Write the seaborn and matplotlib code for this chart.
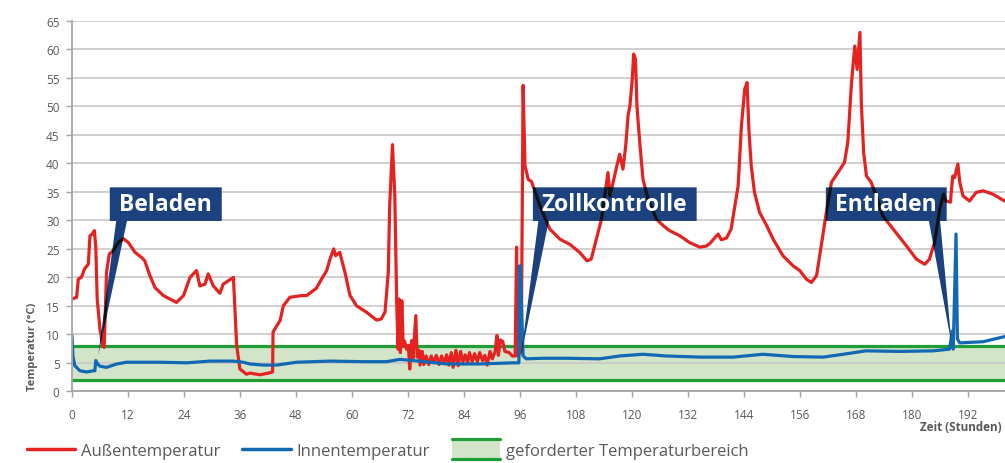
import numpy as np
import pandas as pd
import matplotlib
matplotlib.use("Agg")
import matplotlib.pyplot as plt
import seaborn as sns
from matplotlib.lines import Line2D
from matplotlib.patches import Rectangle, PathPatch
from matplotlib.path import Path
from matplotlib.legend_handler import HandlerBase

# ---------------- data ----------------
hours_out = [0.0, 1.0, 1.35, 2.0, 2.7, 3.5, 3.85, 4.35, 4.8, 5.1, 5.4, 6.0, 6.6, 6.9, 7.4, 8.0, 8.85,
             9.9, 11.0, 12.1, 13.5, 14.9, 15.6, 16.7, 17.8, 19.6, 22.4, 23.9, 25.3, 26.7, 27.4, 28.5,
             29.2, 30.3, 31.7, 32.4, 34.6, 35.3, 36.0, 37.4, 38.1, 40.3, 42.1, 43.0, 43.1, 43.9, 44.6,
             45.3, 46.7, 49.2, 50.3, 52.4, 53.5, 54.6, 55.3, 56.1, 56.5, 57.4, 58.5, 59.6, 61.0, 63.1,
             65.3, 66.3, 67.1, 67.8, 68.1, 68.7, 69.2, 69.6, 69.9, 70.1, 70.4, 70.7, 71.0, 71.3, 71.7,
             72.1, 72.4, 72.8, 73.1, 73.7, 74.0, 74.4, 74.6, 75.1, 75.4, 75.9, 76.5, 77.0, 77.5, 78.1,
             78.7, 79.2, 79.8, 80.3, 80.8, 81.3, 81.7, 82.3, 82.8, 83.3, 83.8, 84.3, 84.8, 85.2, 85.8,
             86.3, 86.9, 87.4, 88.0, 88.5, 89.0, 89.6, 90.1, 90.7, 91.1, 91.4, 91.8, 92.3, 92.8, 93.7,
             94.4, 95.0, 95.3, 95.5, 96.3, 96.7, 97.1, 97.8, 98.5, 100.3, 102.4, 104.6, 106.7, 108.8,
             110.4, 111.3, 112.4, 113.5, 114.2, 114.9, 115.3, 116.0, 116.8, 117.4, 118.1, 118.7, 119.2,
             119.6, 120.1, 120.4, 120.8, 121.1, 121.7, 122.4, 123.5, 125.3, 126.7, 128.1, 130.3, 132.4,
             134.6, 136.0, 136.8, 138.5, 139.2, 140.3, 141.3, 142.1, 142.8, 143.5, 144.2, 144.7, 145.1,
             145.6, 146.3, 147.4, 148.9, 150.3, 152.4, 154.6, 156.0, 157.4, 158.5, 159.6, 160.6, 161.7,
             162.8, 164.2, 165.6, 166.3, 167.1, 167.8, 168.3, 168.9, 169.2, 169.7, 170.3, 171.3, 172.4,
             173.8, 176.0, 178.9, 181.0, 182.8, 183.8, 184.9, 186.0, 186.8, 187.4, 188.3, 188.8, 189.2,
             189.9, 190.3, 191.0, 192.4, 193.8, 195.3, 197.4, 199.9]
temp_out = [16.2, 16.5, 19.7, 20.0, 21.5, 22.3, 27.3, 27.6, 28.2, 25.3, 16.2, 10.9, 8.0, 7.7, 20.9, 24.1, 24.7,
            26.1, 26.8, 26.1, 24.4, 23.5, 22.9, 20.3, 18.2, 16.8, 15.6, 16.8, 20.0, 21.2, 18.5, 18.8,
            20.6, 18.5, 17.2, 18.8, 20.0, 8.0, 3.9, 3.0, 3.2, 2.9, 3.2, 3.4, 10.4, 11.5, 12.4,
            15.0, 16.5, 16.8, 16.8, 18.1, 19.7, 21.2, 23.2, 25.0, 23.8, 24.4, 20.9, 16.8, 15.0, 13.9,
            12.5, 12.7, 13.9, 20.9, 32.6, 43.3, 34.3, 15.6, 7.4, 16.2, 6.8, 15.9, 8.0, 8.8, 7.4,
            8.1, 3.9, 8.9, 5.8, 13.3, 6.0, 7.2, 4.6, 7.0, 4.7, 6.2, 4.7, 6.2, 5.0, 6.3,
            4.7, 6.2, 5.0, 6.4, 4.6, 6.8, 4.2, 7.2, 4.5, 7.0, 5.2, 6.4, 5.0, 6.8, 5.2,
            6.6, 5.2, 6.8, 5.4, 6.3, 4.6, 7.0, 5.7, 7.0, 9.8, 6.3, 9.0, 8.8, 7.0, 6.8,
            6.2, 6.2, 25.3, 6.2, 7.0, 53.7, 39.6, 37.2, 36.8, 32.6, 28.5, 26.7, 25.8, 24.4,
            22.9, 23.2, 26.7, 30.2, 34.3, 38.4, 34.3, 36.7, 39.6, 41.6, 39.0, 43.1, 48.4,
            50.1, 54.8, 59.2, 58.3, 50.1, 43.7, 37.2, 33.7, 30.2, 29.1, 28.2, 27.3, 26.1,
            25.3, 25.5, 26.0, 27.6, 26.6, 26.9, 28.5, 32.6, 36.1, 46.6, 53.0, 54.2, 46.0,
            39.6, 34.9, 31.4, 29.1, 26.7, 23.8, 22.0, 21.2, 19.7, 19.1, 20.3, 25.5, 31.4,
            36.7, 38.4, 40.2, 43.7, 54.2, 60.6, 56.5, 63.0, 50.7, 41.9, 37.8, 36.7, 34.3,
            30.8, 28.5, 25.5, 23.2, 22.3, 23.2, 26.1, 32.0, 34.6, 33.4, 33.2, 37.8, 37.5,
            39.9, 36.7, 34.3, 33.4, 34.9, 35.2, 34.6, 33.4]

hours_in = [0.0, 0.2, 0.6, 1.7, 3.1, 4.6, 4.9, 5.1, 5.5, 6.0, 7.4, 9.6, 11.7, 18.9, 24.6, 29.6, 34.6,
            36.7, 38.1, 41.0, 43.9, 48.1, 55.3, 62.4, 67.4, 70.3, 73.1, 80.3, 87.4, 94.6, 95.8, 95.9,
            96.1, 96.7, 97.4, 101.0, 106.0, 113.1, 117.4, 122.4, 127.4, 134.6, 141.7, 148.1, 154.6,
            161.0, 165.3, 170.2, 177.4, 184.6, 188.1, 188.7, 188.9, 189.5, 189.8, 190.3, 195.3, 199.9]
temp_in = [9.8, 6.2, 4.5, 3.6, 3.4, 3.6, 3.6, 5.4, 4.8, 4.4, 4.2, 4.8, 5.1, 5.1, 5.0, 5.3, 5.3,
           5.1, 4.8, 4.6, 4.6, 5.1, 5.3, 5.2, 5.2, 5.6, 5.4, 4.8, 4.8, 5.0, 5.0, 22.0,
           22.0, 6.2, 5.7, 5.8, 5.8, 5.7, 6.2, 6.5, 6.2, 6.0, 6.0, 6.5, 6.1,
           6.0, 6.5, 7.1, 7.0, 7.1, 7.4, 10.6, 7.4, 27.6, 9.2, 8.5, 8.7, 9.6]

band_low, band_high = 2, 8
x_ticks = list(range(0, 193, 12))
y_ticks = list(range(0, 66, 5))

series_labels = ["Außentemperatur", "Innentemperatur", "geforderter Temperaturbereich"]
callout_labels = ["Beladen", "Zollkontrolle", "Entladen"]

# ---------------- styles ----------------
RED = "#e42320"
BLUE = "#1168b3"
GREEN = "#1f9e37"
BAND_FILL = "#d2e5c8"
BOX = "#1c417f"
GRAY_TXT = "#595959"
GRAY_LINE = "#a6a6a6"

# callout geometry: (box x0, x1, y0, y1), (wedge base x0, x1), wedge tip (x, y)
callout_geom = [
    ((8.1, 32.1, 29.9, 35.8), (9.6, 12.0), (5.6, 6.2)),
    ((98.8, 133.9, 29.9, 35.8), (100.1, 102.4), (96.2, 6.0)),
    ((161.6, 187.5, 29.9, 35.8), (183.5, 186.0), (188.6, 8.0)),
]

sns.set_theme(style="white")
plt.rcParams["font.family"] = ["Open Sans", "DejaVu Sans"]

fig = plt.figure(figsize=(10.05, 4.64), dpi=100)
ax = fig.add_axes([72 / 1005, (464 - 392.3) / 464, 1 - 72 / 1005, (392.3 - 22) / 464])

# band
ax.fill_between([0, 200], band_low, band_high, color=BAND_FILL, lw=0, zorder=0.3)
ax.axhline(band_low, color=GREEN, lw=2.3, zorder=1.5)
ax.axhline(band_high, color=GREEN, lw=2.3, zorder=1.5)

df_out = pd.DataFrame({"h": hours_out, "t": temp_out})
df_in = pd.DataFrame({"h": hours_in, "t": temp_in})
sns.lineplot(data=df_out, x="h", y="t", color=RED, lw=2.3, ax=ax, zorder=2,
             estimator=None, sort=False)
sns.lineplot(data=df_in, x="h", y="t", color=BLUE, lw=2.3, ax=ax, zorder=2.1,
             estimator=None, sort=False)

# callouts
for label, (box, base, tip) in zip(callout_labels, callout_geom):
    bx0, bx1, by0, by1 = box
    verts = [(bx0, by0), (bx1, by0), (bx1, by1), (bx0, by1), (bx0, by0),
             (base[0], by0 + 0.8), (tip[0], tip[1]), (base[1], by0 + 0.8), (base[0], by0 + 0.8)]
    codes = [Path.MOVETO, Path.LINETO, Path.LINETO, Path.LINETO, Path.CLOSEPOLY,
             Path.MOVETO, Path.LINETO, Path.LINETO, Path.CLOSEPOLY]
    patch = PathPatch(Path(verts, codes), facecolor=BOX, edgecolor="none", zorder=3,
                      transform=ax.transData)
    ax.add_patch(patch)
    dark, = ax.plot(hours_out, temp_out, color="#111111", lw=2.3, zorder=3.5)
    dark.set_clip_path(patch)
    ax.text((bx0 + bx1) / 2, (by0 + by1) / 2, label, color="white", fontweight="bold",
            fontsize=16.5, ha="center", va="center", zorder=5)

# axes styling
ax.set_xlim(0, 200)
ax.set_ylim(0, 65)
ax.set_xticks(x_ticks)
ax.set_yticks(y_ticks)
ax.set_axisbelow(True)
ax.yaxis.grid(True, color="#c8c8c8", lw=1.2)
ax.xaxis.grid(False)
for s in ["top", "right"]:
    ax.spines[s].set_visible(False)
for s in ["left", "bottom"]:
    ax.spines[s].set_color(GRAY_LINE)
    ax.spines[s].set_linewidth(1.3)
ax.tick_params(axis="both", bottom=True, left=True, direction="out", length=4, width=1,
               color=GRAY_LINE, labelcolor=GRAY_TXT, labelsize=8.5)
ax.tick_params(axis="x", pad=8)
ax.tick_params(axis="y", pad=5)
ax.set_xlabel("")
ax.set_ylabel("Temperatur (°C)", fontsize=8, fontweight="bold", color=GRAY_TXT)
ax.yaxis.set_label_coords(-0.036, 0.122)

fig.text(1002 / 1005, (464 - 428) / 464, "Zeit (Stunden)", fontsize=8.4, fontweight="bold",
         color=GRAY_TXT, ha="right", va="center")


class BandHandler(HandlerBase):
    def create_artists(self, legend, orig_handle, xdescent, ydescent, width, height,
                       fontsize, trans):
        h = height * 1.75
        y0 = -ydescent + height / 2 - h / 2
        x0 = -xdescent
        rect = Rectangle((x0, y0), width, h, facecolor=BAND_FILL, edgecolor="none",
                         transform=trans)
        l1 = Line2D([x0, x0 + width], [y0, y0], color=GREEN, lw=2.3, transform=trans)
        l2 = Line2D([x0, x0 + width], [y0 + h, y0 + h], color=GREEN, lw=2.3, transform=trans)
        return [rect, l1, l2]


band_handle = Rectangle((0, 0), 1, 1)
handles = [Line2D([], [], color=RED, lw=2.5), Line2D([], [], color=BLUE, lw=2.5), band_handle]
fig.legend(handles=handles, labels=series_labels, loc="center left",
           bbox_to_anchor=(27 / 1005, (464 - 452) / 464), ncol=3, frameon=False,
           fontsize=12, handlelength=2.9, handletextpad=0.36, columnspacing=1.3,
           borderpad=0, borderaxespad=0, labelcolor=GRAY_TXT,
           handler_map={band_handle: BandHandler()})

fig.savefig("out.png", dpi=100)
